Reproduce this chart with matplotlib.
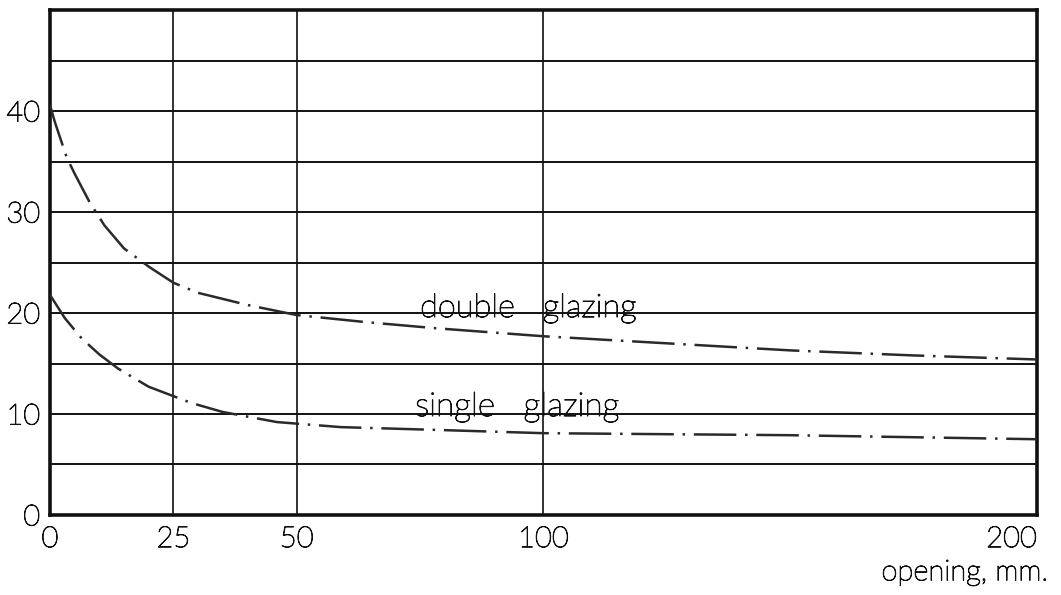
import matplotlib.pyplot as plt
import matplotlib.patheffects as pe

# double glazing curve
double_x = [0, 1, 3.4, 5, 8, 11, 15, 20, 25, 30, 40, 50, 64, 78, 100, 125, 150, 175, 200]
double_y = [40.6, 38.9, 35.4, 33.8, 31.0, 28.7, 26.4, 24.6, 23.0, 22.0, 20.8, 19.8, 19.1, 18.5, 17.7, 17.0, 16.3, 15.8, 15.4]

# single glazing curve
single_x = [0, 3, 6.4, 10, 13.8, 20, 28.6, 35, 46, 59, 80, 100, 125, 150, 175, 200]
single_y = [21.8, 19.5, 17.5, 15.9, 14.5, 12.7, 11.1, 10.2, 9.2, 8.7, 8.4, 8.1, 8.0, 7.9, 7.7, 7.5]

x_ticks = [0, 25, 50, 100, 200]
y_ticks = [0, 10, 20, 30, 40]
y_grid = [5, 10, 15, 20, 25, 30, 35, 40, 45]

plt.rcParams['font.family'] = ['Lato', 'DejaVu Sans']
plt.rcParams['font.weight'] = 'light'

ink = '#111111'
thick = [pe.withStroke(linewidth=0.7, foreground=ink)]

fig = plt.figure(figsize=(10.61, 5.95), dpi=100)
ax = fig.add_axes([0.0471, 0.1345, 0.9303, 0.8485])

ax.set_xlim(0, 200)
ax.set_ylim(0, 50)

for yv in y_grid:
    ax.axhline(yv, color=ink, lw=1.4, zorder=1)
for xv in x_ticks[1:-1]:
    ax.axvline(xv, color=ink, lw=1.2, zorder=1)

dash = (0, (17, 3.5, 1, 3.5))
ax.plot(double_x, double_y, color='#2a2a2a', lw=1.8, linestyle=dash, zorder=3)
ax.plot(single_x, single_y, color='#2a2a2a', lw=1.8, linestyle=dash, zorder=3)

ax.text(75, 19.6, 'double   glazing', fontsize=23.5, color=ink,
        ha='left', va='baseline', zorder=4, path_effects=thick)
ax.text(74, 9.8, 'single   glazing', fontsize=24, color=ink,
        ha='left', va='baseline', zorder=4, path_effects=thick)

ax.set_xticks(x_ticks)
ax.set_xticklabels([str(v) for v in x_ticks])
ax.set_yticks(y_ticks)
ax.set_yticklabels([str(v) for v in y_ticks])
ax.tick_params(axis='both', length=0, labelsize=21, colors=ink)
ax.tick_params(axis='x', pad=8)
ax.tick_params(axis='y', pad=7)
for lab in ax.get_xticklabels() + ax.get_yticklabels():
    lab.set_path_effects(thick)
labels = ax.get_xticklabels()
labels[-1].set_horizontalalignment('right')
labels[-1].set_x(200)

for s in ax.spines.values():
    s.set_linewidth(2.6)
    s.set_color(ink)

fig.text(0.987, 0.038, 'opening, mm.', fontsize=21, color=ink,
         ha='right', va='center', path_effects=thick)

fig.savefig('out.png', dpi=100)
